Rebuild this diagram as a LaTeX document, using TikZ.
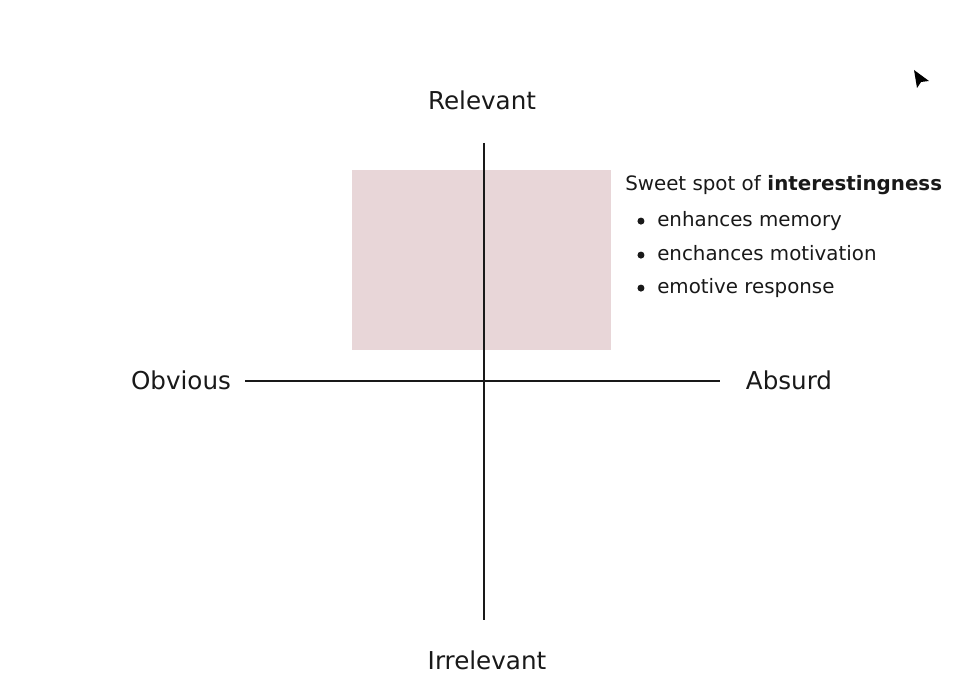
\documentclass[tikz,border=0pt]{standalone}
\usepackage{fontspec}
\setmainfont{DejaVu Sans}
\definecolor{spotpink}{RGB}{232,214,216}
\tikzset{
  axislabel/.style={anchor=base, font=\fontsize{17.5}{20}\selectfont, text=black!90},
  notetext/.style={anchor=base west, inner sep=0pt, font=\fontsize{14.1}{17}\selectfont, text=black!90},
  dotmark/.style={circle, fill=black!90, inner sep=0pt, minimum size=5pt},
  axisline/.style={line width=1.4pt, black!90}
}

\begin{document}
\begin{tikzpicture}[x=0.025cm,y=-0.025cm]
    \useasboundingbox[fill=white] (0,0) rectangle (979,694);

    % sweet spot
    \fill [spotpink] (352,170) rectangle (611,350);

    % axes
    \coordinate (top) at (484,143);
    \coordinate (bottom) at (484,620);
    \coordinate (left) at (245,381);
    \coordinate (right) at (720,381);
    \draw [axisline] (top) -- (bottom);
    \draw [axisline] (left) -- (right);

    \node [axislabel] (relevant) at (482,110) {Relevant};
    \node [axislabel] (irrelevant) at (487,669) {Irrelevant};
    \node [axislabel] (obvious) at (181,390) {Obvious};
    \node [axislabel] (absurd) at (789,390) {Absurd};

    % note
    \node [notetext] (title) at (625,191) {Sweet spot of \textbf{interestingness}};
    \node [notetext] (memory) at (657,227) {enhances memory};
    \node [notetext] (motivation) at (657,261) {enchances motivation};
    \node [notetext] (emotive) at (657,294) {emotive response};
    \foreach \n in {memory,motivation,emotive}
        \node [dotmark] at ([xshift=-11.4pt, yshift=4.2pt]\n.base west) {};

    % pointer
    \fill [black] (914,70) -- (917,88) -- (921,82) -- (929,81) -- cycle;
\end{tikzpicture}
\end{document}
